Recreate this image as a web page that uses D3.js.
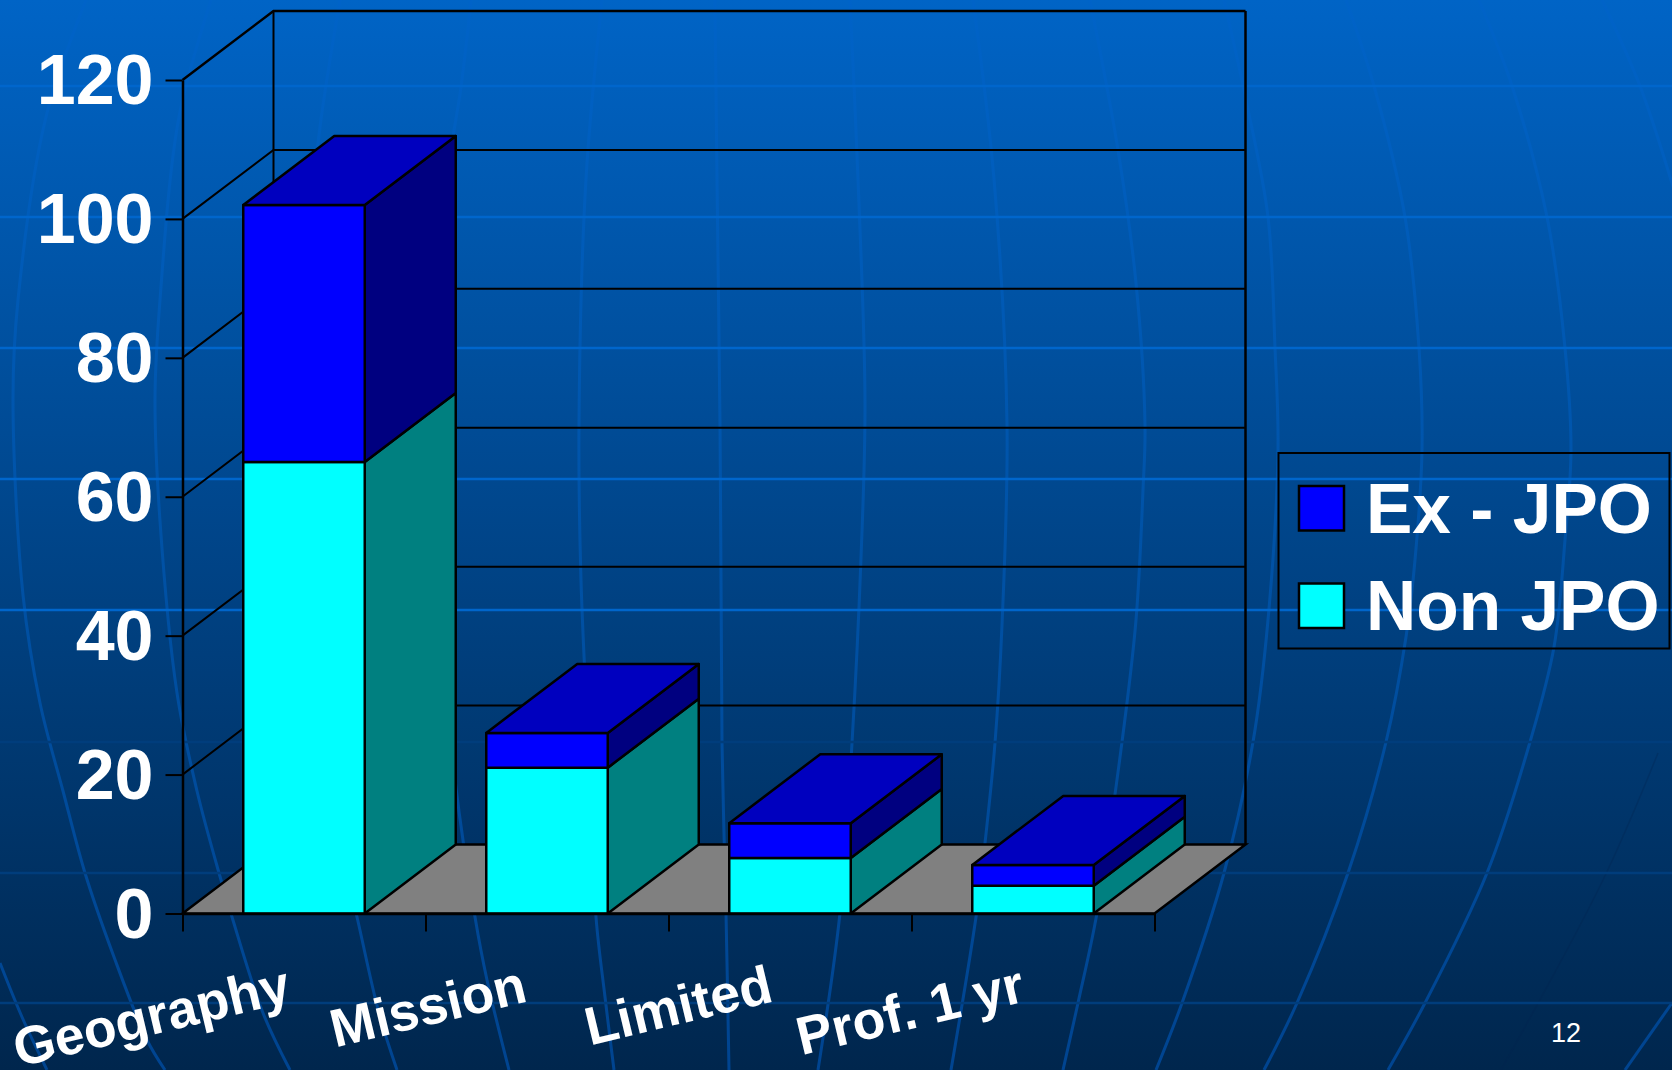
<!DOCTYPE html>
<html>
<head>
<meta charset="utf-8">
<title>Ex-JPO and Non JPO</title>
<script src="https://cdn.jsdelivr.net/npm/d3@7"></script>
<style>
  html, body { margin: 0; padding: 0; background: #002a58; }
  svg { display: block; }
  text { font-family: "Liberation Sans", Arial, sans-serif; fill: #fff; }
</style>
</head>
<body>
<div id="chart"></div>
<script>
const categories = ["Geography", "Mission", "Limited", "Prof. 1 yr"];
const nonJpo = [65, 21, 8, 4];
const exJpo = [37, 5, 5, 3];
const yTicks = [0, 20, 40, 60, 80, 100, 120];
const legendLabels = ["Ex - JPO", "Non JPO"];
const pageNumber = "12";

// slide background decoration
const bandLinesBright = [86, 217, 348, 479, 610];
const bandLinesDim = [742, 873, 1003];
const meridians = [
  [[1602,0],[1640,86],[1674,190]],
  [[1479,0],[1512,86],[1547,217],[1565,348],[1571,450],[1565,540],[1554,647],[1530,742],[1487,873],[1425,1003],[1388,1070]],
  [[1346,0],[1374,86],[1405,217],[1419,348],[1422,450],[1415,560],[1406,637],[1386,742],[1348,873],[1297,1003],[1264,1070]],
  [[1224,0],[1246,100],[1268,217],[1275,348],[1278,450],[1268,620],[1253,742],[1224,873],[1182,1003],[1156,1070]],
  [[1090,0],[1118,150],[1136,283],[1145,425],[1143,490],[1136,620],[1122,742],[1097,913],[1078,1003],[1063,1070]],
  [[973,0],[994,179],[1007,424],[1002,625],[995,743],[985,843],[976,917],[951,1070]],
  [[850,0],[858,179],[865,402],[861,558],[852,743],[840,913],[818,1070]],
  [[715,0],[717,179],[720,424],[721,580],[722,743],[726,913],[729,1070]],
  [[602,0],[586,179],[579,424],[581,580],[590,780],[596,917],[605,997],[614,1070]],
  [[471,0],[461,87],[440,223],[432,420],[438,600],[455,780],[475,917],[487,980],[509,1070]],
  [[340,0],[320,127],[304,283],[297,450],[305,620],[330,800],[357,917],[379,1013],[397,1070]],
  [[211,0],[179,117],[160,300],[155,398],[160,521],[177,693],[197,791],[219,873],[232,917],[263,1013],[290,1070]],
  [[86,0],[46,117],[18,300],[13,398],[23,595],[40,703],[63,791],[85,873],[114,957],[147,1040],[165,1070]],
  [[0,963],[22,1017],[47,1070]],
  [[1672,1003],[1625,1070]]
];
const faintArc = [[1658,753],[1603,880],[1501,1070]];

const W = 1672, H = 1070;
const plotLeft = 182.5, plotRight = 1154.5, plotTop = 80, plotBottom = 913.5;
const depthX = 91, depthY = 69;

const svg = d3.select("#chart").append("svg").attr("width", W).attr("height", H);
const defs = svg.append("defs");

const bg = defs.append("linearGradient").attr("id", "bg").attr("x1", 0).attr("y1", 0).attr("x2", 0).attr("y2", 1);
bg.append("stop").attr("offset", 0).attr("stop-color", "#0064c6");
bg.append("stop").attr("offset", 1).attr("stop-color", "#00264d");

const mer = defs.append("linearGradient").attr("id", "mer").attr("gradientUnits", "userSpaceOnUse")
  .attr("x1", 0).attr("y1", 0).attr("x2", 0).attr("y2", H);
mer.append("stop").attr("offset", 0).attr("stop-color", "#0063c8");
mer.append("stop").attr("offset", 0.5).attr("stop-color", "#0052a6");
mer.append("stop").attr("offset", 1).attr("stop-color", "#004490");

svg.append("rect").attr("width", W).attr("height", H).attr("fill", "url(#bg)");

const curve = d3.line().curve(d3.curveCatmullRom.alpha(0.5));
svg.append("g").selectAll("path").data(meridians).join("path")
  .attr("d", d => curve(d))
  .attr("fill", "none")
  .attr("stroke", "url(#mer)")
  .attr("stroke-width", 3);
svg.append("path").attr("d", curve(faintArc))
  .attr("fill", "none").attr("stroke", "#00254f").attr("stroke-width", 1.5).attr("opacity", 0.3);

svg.append("g").selectAll("line").data(bandLinesBright).join("line")
  .attr("x1", 0).attr("x2", W).attr("y1", d => d).attr("y2", d => d)
  .attr("stroke", "#0066cc").attr("stroke-width", 2.5);
svg.append("g").selectAll("line").data(bandLinesDim).join("line")
  .attr("x1", 0).attr("x2", W).attr("y1", d => d).attr("y2", d => d)
  .attr("stroke", "#003d7c").attr("stroke-width", 2.5);

// scales
const y = d3.scaleLinear().domain([0, 120]).range([plotBottom, plotTop]);
const xBand = d3.scaleBand().domain(categories).range([plotLeft, plotRight]);
const barInset = xBand.bandwidth() * 0.25;
const barWidth = xBand.bandwidth() * 0.5;
const xEdge = d3.scaleLinear().domain([0, categories.length]).range([plotLeft, plotRight]);

const rows = categories.map((c, i) => ({ cat: c, "Non JPO": nonJpo[i], "Ex - JPO": exJpo[i] }));
const stacked = d3.stack().keys(["Non JPO", "Ex - JPO"])(rows);

const frontColor = { "Non JPO": "#00ffff", "Ex - JPO": "#0000ff" };
const sideColor = { "Non JPO": "#008080", "Ex - JPO": "#000080" };
const topColor = "#0000bf";

const poly = pts => "M" + pts.map(p => p.join(",")).join("L") + "Z";

// walls and gridlines
const walls = svg.append("g").attr("stroke", "#000").attr("fill", "none");
walls.selectAll(".grid").data(yTicks.filter(t => t > 0)).join("path")
  .attr("class", "grid")
  .attr("d", t => `M${plotLeft},${y(t)}L${plotLeft + depthX},${y(t) - depthY}L${plotRight + depthX},${y(t) - depthY}`)
  .attr("stroke-width", t => t === 120 ? 2.5 : 2);
walls.append("line")
  .attr("x1", plotLeft + depthX).attr("x2", plotLeft + depthX)
  .attr("y1", y(120) - depthY).attr("y2", y(0) - depthY).attr("stroke-width", 2);
walls.append("line")
  .attr("x1", plotRight + depthX).attr("x2", plotRight + depthX)
  .attr("y1", y(120) - depthY).attr("y2", y(0) - depthY).attr("stroke-width", 2.5);

// floor
svg.append("path")
  .attr("d", poly([[plotLeft, y(0)], [plotRight, y(0)], [plotRight + depthX, y(0) - depthY], [plotLeft + depthX, y(0) - depthY]]))
  .attr("fill", "#808080").attr("stroke", "#000").attr("stroke-width", 2.5);

// bars, one column at a time
categories.forEach((cat, i) => {
  const x0 = xBand(cat) + barInset;
  const x1 = x0 + barWidth;
  const g = svg.append("g").attr("stroke", "#000").attr("stroke-width", 2.5).attr("stroke-linejoin", "round");
  stacked.forEach(s => {
    const yLow = y(s[i][0]), yHigh = y(s[i][1]);
    g.append("path")
      .attr("d", poly([[x1, yLow], [x1 + depthX, yLow - depthY], [x1 + depthX, yHigh - depthY], [x1, yHigh]]))
      .attr("fill", sideColor[s.key]);
    g.append("rect")
      .attr("x", x0).attr("y", yHigh).attr("width", barWidth).attr("height", yLow - yHigh)
      .attr("fill", frontColor[s.key]);
  });
  const yTop = y(stacked[stacked.length - 1][i][1]);
  g.append("path")
    .attr("d", poly([[x0, yTop], [x1, yTop], [x1 + depthX, yTop - depthY], [x0 + depthX, yTop - depthY]]))
    .attr("fill", topColor);
});

// axes
const yAxis = svg.append("g").attr("transform", `translate(${plotLeft},0)`)
  .call(d3.axisLeft(y).tickValues(yTicks).tickSize(17).tickSizeOuter(0).tickPadding(12));
yAxis.selectAll("text").style("font-size", "70px").style("font-weight", "bold").attr("dy", "0.34em");

const xAxis = svg.append("g").attr("transform", `translate(0,${plotBottom})`)
  .call(d3.axisBottom(xEdge).tickValues(d3.range(categories.length + 1)).tickFormat("").tickSize(18).tickSizeOuter(0));

[yAxis, xAxis].forEach(a => {
  a.select(".domain").attr("stroke", "#000").attr("stroke-width", 2.5);
  a.selectAll(".tick line").attr("stroke", "#000").attr("stroke-width", 2);
});

// category labels, each label end sits a little differently under its band
const labelNudge = [-11, -18, -15, -6];
svg.append("g").selectAll("text").data(categories).join("text")
  .attr("transform", (d, i) => `translate(${xBand(d) + xBand.bandwidth() / 2 + labelNudge[i]},1001) rotate(-13.5)`)
  .attr("text-anchor", "end")
  .style("font-size", "53.5px")
  .style("font-weight", "bold")
  .text(d => d);

// legend
const legend = svg.append("g");
legend.append("rect")
  .attr("x", 1278.5).attr("y", 453).attr("width", 391).attr("height", 195.5)
  .attr("fill", "none").attr("stroke", "#000").attr("stroke-width", 2);
const legendItem = legend.selectAll(".item").data(legendLabels).join("g")
  .attr("class", "item")
  .attr("transform", (d, i) => `translate(1299,${486 + i * 97.5})`);
legendItem.append("rect")
  .attr("width", 45).attr("height", 44.5)
  .attr("fill", d => d === "Ex - JPO" ? frontColor["Ex - JPO"] : frontColor["Non JPO"])
  .attr("stroke", "#000").attr("stroke-width", 2.5);
legendItem.append("text")
  .attr("x", 67).attr("y", 46.5)
  .style("font-size", "69.5px").style("font-weight", "bold")
  .text(d => d);

// page number
svg.append("text")
  .attr("x", 1566).attr("y", 1041.5).attr("text-anchor", "middle")
  .style("font-size", "27px")
  .text(pageNumber);
</script>
</body>
</html>
